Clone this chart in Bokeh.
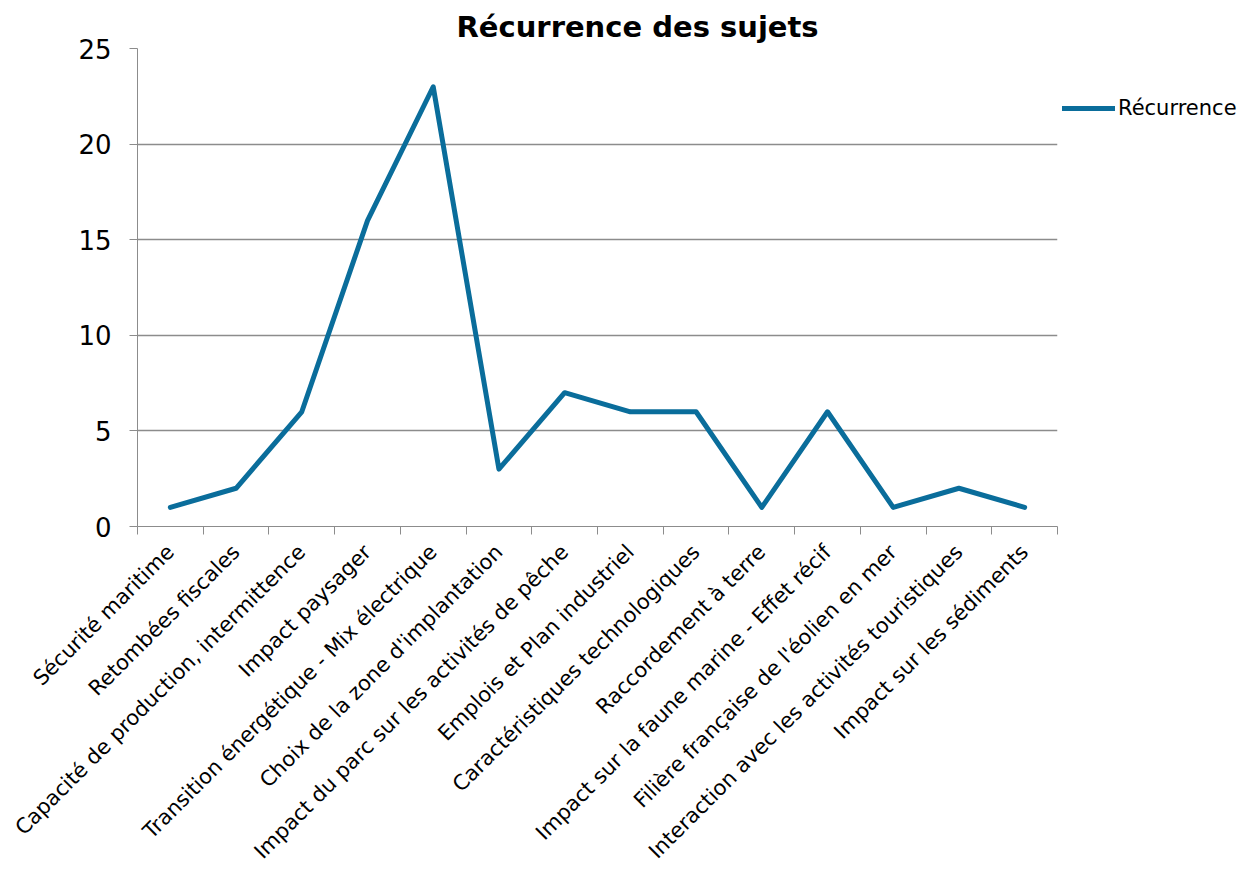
import math
from bokeh.plotting import figure
from bokeh.models import Range1d, FixedTicker, Legend, LegendItem
from bokeh.embed import file_html
from bokeh.resources import INLINE

categories = [
    "Sécurité maritime",
    "Retombées fiscales",
    "Capacité de production, intermittence",
    "Impact paysager",
    "Transition énergétique - Mix électrique",
    "Choix de la zone d'implantation",
    "Impact du parc sur les activités de pêche",
    "Emplois et Plan industriel",
    "Caractéristiques technologiques",
    "Raccordement à terre",
    "Impact sur la faune marine - Effet récif",
    "Filière française de l'éolien en mer",
    "Interaction avec les activités touristiques",
    "Impact sur les sédiments",
]
recurrence = [1, 2, 6, 16, 23, 3, 7, 6, 6, 1, 6, 1, 2, 1]
y_ticks = [0, 5, 10, 15, 20, 25]
series_name = "Récurrence"
title_text = "Récurrence des sujets"

FONT = "DejaVu Sans"
LINE_COLOR = "#0a6d9b"
GRID = "#8c8c8c"

n = len(categories)
xs = [i + 0.5 for i in range(n)]

p = figure(
    width=1242, height=853,
    frame_width=920, frame_height=478,
    min_border_left=137, min_border_right=185, min_border_top=48, min_border_bottom=10,
    x_range=Range1d(0, n), y_range=Range1d(0, 25),
    output_backend="svg", toolbar_location=None,
    title=title_text,
)
p.outline_line_color = None
p.background_fill_color = "white"
p.border_fill_color = "white"

p.title.text_font = FONT
p.title.text_font_size = "29px"
p.title.text_font_style = "bold"
p.title.align = "left"
p.title.offset = 319
p.title.text_color = "black"

# x axis
xa = p.xaxis[0]
xa.ticker = FixedTicker(ticks=xs, minor_ticks=list(range(n + 1)))
xa.major_label_overrides = {x: c for x, c in zip(xs, categories)}
xa.major_label_orientation = math.pi / 4
xa.major_tick_line_color = None
xa.minor_tick_in = 0
xa.minor_tick_out = 8
xa.minor_tick_line_color = GRID
xa.axis_line_color = GRID
xa.major_label_text_font = FONT
xa.major_label_text_font_size = "21px"
xa.major_label_text_color = "black"
xa.major_label_standoff = 14

# y axis
ya = p.yaxis[0]
ya.ticker = FixedTicker(ticks=y_ticks)
ya.minor_tick_line_color = None
ya.major_tick_in = 0
ya.major_tick_out = 8
ya.major_tick_line_color = GRID
ya.axis_line_color = GRID
ya.major_label_text_font = FONT
ya.major_label_text_font_size = "26px"
ya.major_label_text_color = "black"
ya.major_label_standoff = 18

p.xgrid.grid_line_color = None
p.ygrid.ticker = FixedTicker(ticks=y_ticks)
p.ygrid.grid_line_color = GRID
p.ygrid.grid_line_width = 1.3

r = p.line(xs, recurrence, line_color=LINE_COLOR, line_width=5, line_join="round", line_cap="round")

legend = Legend(
    items=[LegendItem(label=series_name, renderers=[r])],
    location=(5, 406),
    border_line_color=None, background_fill_alpha=0,
    padding=0, margin=0, spacing=0,
    glyph_width=53, glyph_height=24, label_standoff=3,
    label_text_font=FONT, label_text_font_size="21px", label_text_color="black",
)
p.add_layout(legend, "right")

open("out.html", "w").write(file_html(p, INLINE))
